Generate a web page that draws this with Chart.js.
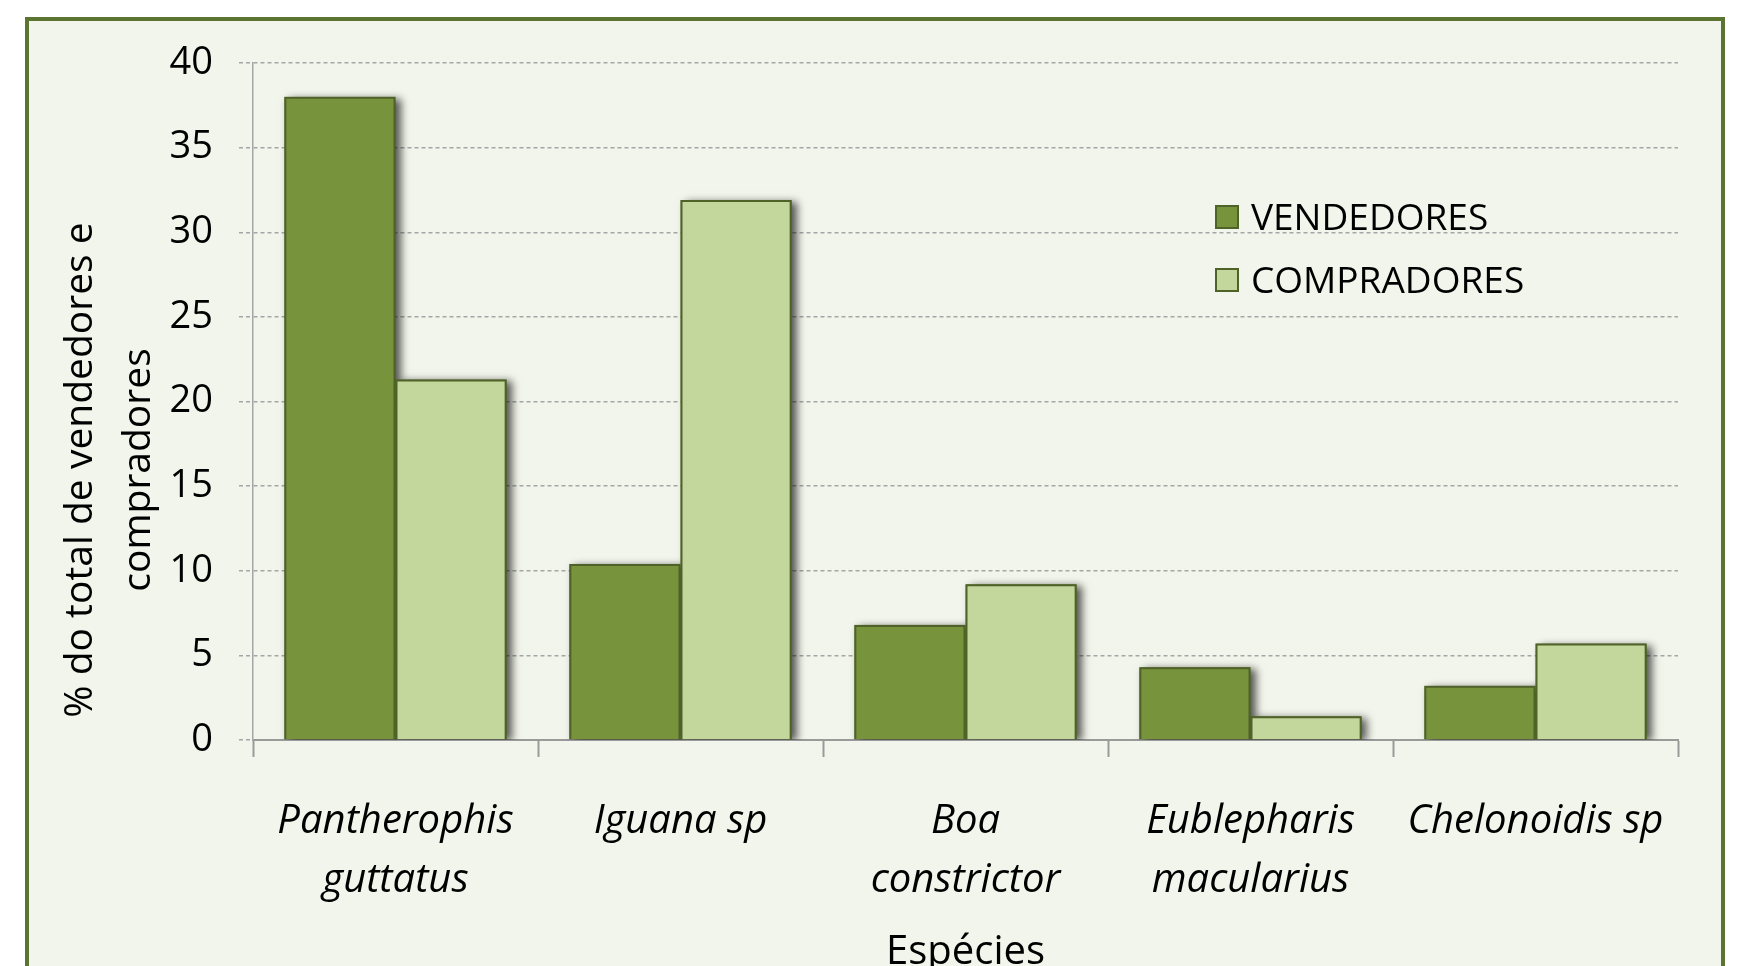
<!DOCTYPE html>
<html>
<head>
<meta charset="utf-8">
<script src="https://cdn.jsdelivr.net/npm/chart.js@4.4.1/dist/chart.umd.min.js"></script>
<style>
html,body{margin:0;padding:0;background:#fff;}
#wrap{width:1740px;height:966px;}
</style>
</head>
<body>
<div id="wrap"><canvas id="grafico" width="1740" height="966"></canvas></div>
<script>

/* dados */
const especies=[
["Pantherophis","guttatus"],
["Iguana sp"],
["Boa","constrictor"],
["Eublepharis","macularius"],
["Chelonoidis sp"]
];
const vendedores=[38.0,10.4,6.8,4.3,3.2];
const compradores=[21.3,31.9,9.2,1.4,5.7];
const tituloY=["% do total de vendedores e","compradores"];
const tituloX="Espécies";

const FONTE="'Open Sans', sans-serif";
const ESCURO="#77933c";
const CLARO="#c3d69b";
const BORDA="#4f6228";

/* moldura + fundo */
const moldura={
id:"moldura",
beforeDraw(chart){
const c=chart.ctx;
c.save();
c.fillStyle="#ffffff";
c.fillRect(0,0,chart.width,chart.height);
c.fillStyle="#f2f5eb";
c.fillRect(27,19,1696,1000);
c.strokeStyle="#5b7431";
c.lineWidth=4;
c.strokeRect(27,19,1696,1000);
c.restore();
}
};

/* sombra das barras (a barra do chart.js recorta a propria sombra) */
const sombra={
id:"sombra",
beforeDatasetsDraw(chart){
const c=chart.ctx;
const area=chart.chartArea;
c.save();
c.beginPath();
c.rect(area.left,area.top-10,area.right-area.left+20,area.bottom-area.top+10);
c.clip();
c.shadowColor="rgba(0,0,0,0.65)";
c.shadowBlur=8;
c.shadowOffsetX=5;
c.shadowOffsetY=2;
c.fillStyle=BORDA;
chart.data.datasets.forEach((ds,i)=>{
chart.getDatasetMeta(i).data.forEach(b=>{
const p=b.getProps(["x","y","base","width"],true);
c.fillRect(p.x-p.width/2,p.y,p.width,p.base-p.y);
});
});
c.restore();
}
};

/* legenda dentro do grafico */
const legenda={
id:"legenda",
afterDraw(chart){
const c=chart.ctx;
c.save();
c.font="37px "+FONTE;
c.textBaseline="middle";
chart.data.datasets.forEach((ds,i)=>{
const y=217+i*63;
c.fillStyle=ds.backgroundColor;
c.fillRect(1216,y-11,22,22);
c.strokeStyle=ds.borderColor;
c.lineWidth=2;
c.strokeRect(1216,y-11,22,22);
c.fillStyle="#000";
c.fillText(ds.label,1251,y+2);
});
c.restore();
}
};

/* titulo do eixo y */
const tituloEixoY={
id:"tituloEixoY",
afterDraw(chart){
const c=chart.ctx;
c.save();
c.font="39px "+FONTE;
c.fillStyle="#000";
c.textAlign="center";
c.textBaseline="middle";
c.translate(0,470);
c.rotate(-Math.PI/2);
c.fillText(tituloY[0],0,81);
c.fillText(tituloY[1],0,139);
c.restore();
}
};

new Chart(document.getElementById("grafico"),{
type:"bar",
data:{
labels:especies,
datasets:[
{label:"VENDEDORES",data:vendedores,backgroundColor:ESCURO,borderColor:BORDA,borderWidth:2},
{label:"COMPRADORES",data:compradores,backgroundColor:CLARO,borderColor:BORDA,borderWidth:2}
]
},
options:{
responsive:false,
animation:false,
devicePixelRatio:1,
layout:{padding:{top:63,right:62,left:0,bottom:0}},
datasets:{bar:{categoryPercentage:0.78,barPercentage:1}},
plugins:{legend:{display:false},tooltip:{enabled:false}},
scales:{
x:{
afterFit(s){s.height=226;},
grid:{offset:true,drawOnChartArea:false,drawTicks:true,tickLength:17,tickColor:"#9a9a9a",tickWidth:2},
border:{display:true,color:"#9a9a9a",width:2},
ticks:{color:"#000",padding:35,maxRotation:0,autoSkip:false,font:{family:FONTE,size:40,style:"italic",lineHeight:1.48}},
title:{display:true,text:tituloX,color:"#000",padding:{top:0,bottom:-7},font:{family:FONTE,size:40,lineHeight:1}}
},
y:{
min:0,max:40,
afterFit(s){s.width=253;},
ticks:{stepSize:5,color:"#000",padding:26,font:{family:FONTE,size:38}},
grid:{color:"#a6a6a6",lineWidth:1.5,tickLength:14,tickColor:"#a6a6a6",tickBorderDash:[4,3]},
border:{display:true,dash:[4,3],color:"#a6a6a6",width:1.5}
}
}
},
plugins:[moldura,sombra,legenda,tituloEixoY]
});

</script>
</body>
</html>
